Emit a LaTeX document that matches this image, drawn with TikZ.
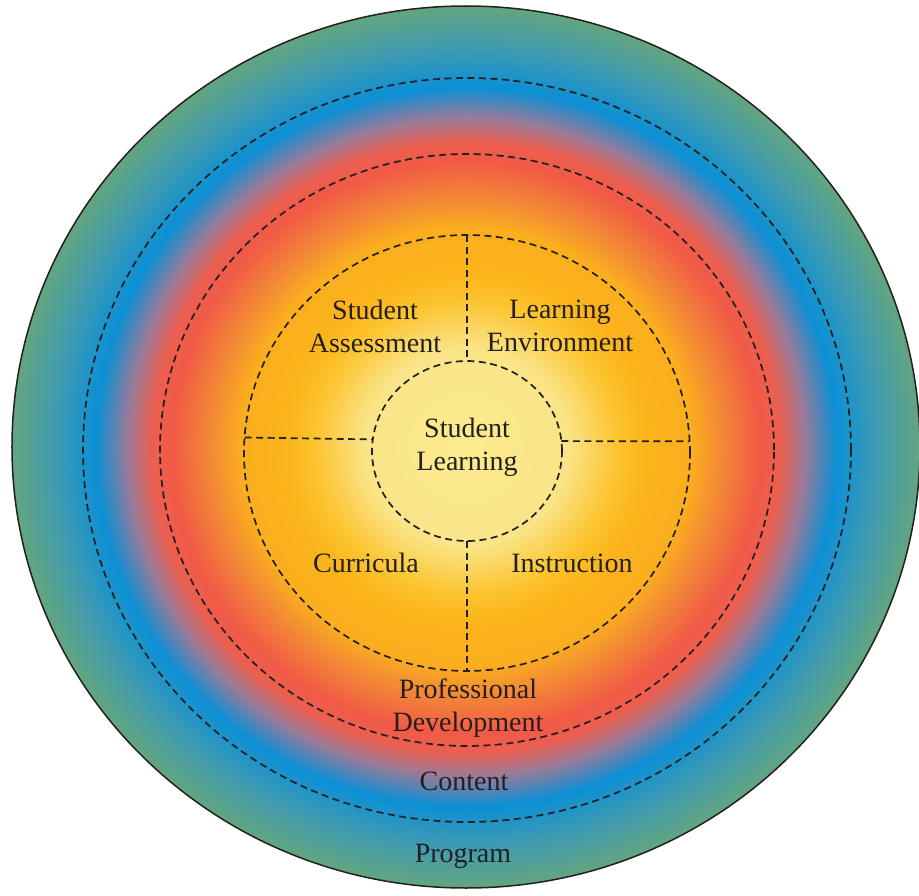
\documentclass[tikz,border=0pt]{standalone}
\usepackage{fontspec}
\setmainfont{Liberation Serif}
\usepackage{tikz}
\usetikzlibrary{shapes.geometric}
\definecolor{PaleCore}{HTML}{FBEC8E}
\definecolor{PaleEdge}{HTML}{FAE487}
\definecolor{SunMid}{HTML}{FCC430}
\definecolor{SunRing}{HTML}{FCB41B}
\definecolor{SunOuter}{HTML}{FBAE1E}
\definecolor{Ember}{HTML}{F38A35}
\definecolor{RedRing}{HTML}{F15A46}
\definecolor{RedEdge}{HTML}{EC5F50}
\definecolor{Mauve}{HTML}{9E7A96}
\definecolor{BlueRing}{HTML}{0B8FD5}
\definecolor{Teal}{HTML}{3F9BB2}
\definecolor{GreenRing}{HTML}{62A57F}
\definecolor{InkText}{HTML}{231F20}
\pgfdeclareradialshading{layers}{\pgfpointorigin}{%
  color(0bp)=(PaleCore); color(5.6bp)=(PaleEdge); color(8.3bp)=(SunMid);
  color(9.9bp)=(SunRing); color(12.4bp)=(SunOuter); color(14bp)=(Ember);
  color(16.2bp)=(RedRing); color(17.3bp)=(RedEdge); color(18.6bp)=(Mauve);
  color(20.4bp)=(BlueRing); color(22.6bp)=(Teal);
  color(25bp)=(GreenRing); color(50bp)=(GreenRing)}

\begin{document}
\begin{tikzpicture}[
      x=1pt, y=1pt,
      every node/.style={align=center, font=\fontsize{28}{33}\selectfont, text=InkText},
      ring/.style={draw=InkText, ellipse, line width=1.7pt, dash pattern=on 7pt off 4.5pt, inner sep=0pt, outer sep=0pt},
      divider/.style={draw=InkText, line width=1.7pt, dash pattern=on 7pt off 4.5pt}
    ]
      \useasboundingbox (-467,-445) rectangle (452,450);
      % Shaded disc and rings
      \node[ellipse, draw=InkText, line width=1.5pt, shade, shading=layers, minimum width=908pt, minimum height=882pt, inner sep=0pt, outer sep=0pt] (prog) at (-1,3) {};
      \node[ring, minimum width=768pt, minimum height=744pt] (cont) at (0,0) {};
      \node[ring, minimum width=614pt, minimum height=592pt] (prodev) at (0,0) {};
      \node[ring, minimum width=446pt, minimum height=436pt] (quad) at (0,-3) {};
      \node[ring, minimum width=190pt, minimum height=180pt] (core) at (0,-1) {};
      % Dividers
      \draw[divider] (quad.north) -- (core.north);
      \draw[divider] (core.south) -- (quad.south);
      \draw[divider] (quad.176.7) -- (core.173.3);
      \draw[divider] (core.6.7) -- (quad.3.3);
      % Labels
      \node (lblassess) at (-92,124) {Student\\Assessment};
      \node (lblenv) at (93,124) {Learning\\Environment};
      \node (lblcore) at (0,3) {Student\\Learning};
      \node[anchor=base] (lblcurr) at (-101,-122) {Curricula};
      \node[anchor=base] (lblinstr) at (105,-122) {Instruction};
      \node (lblpd) at (1,-258) {Professional\\Development};
      \node[anchor=base] (lblcontent) at (-3,-340) {Content};
      \node[anchor=base] (lblprog) at (-4,-412) {Program};
    \end{tikzpicture}
\end{document}
